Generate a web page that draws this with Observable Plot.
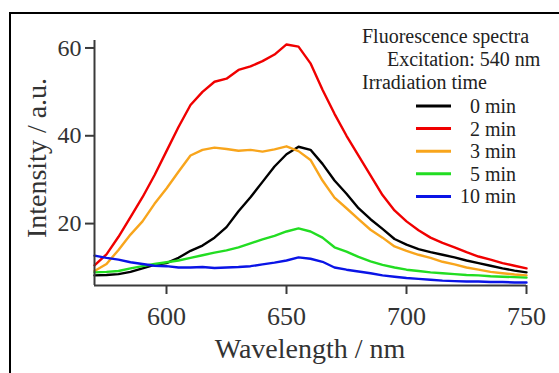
<!DOCTYPE html>
<html>
<head>
<meta charset="utf-8">
<script src="https://cdn.jsdelivr.net/npm/d3@7"></script>
<script src="https://cdn.jsdelivr.net/npm/@observablehq/plot@0.6"></script>
<style>
  html, body { margin: 0; padding: 0; background: #fff; }
  #wrap { position: relative; width: 559px; height: 373px; overflow: hidden; }
  #frame { position: absolute; left: 9px; top: 12px; width: 560px; height: 370px;
           border-left: 2.5px solid #000; border-top: 2.5px solid #000; pointer-events: none; }
  #wrap svg text { font-family: "Liberation Serif", "DejaVu Serif", serif !important; }
</style>
</head>
<body>
<div id="wrap"><div id="frame"></div></div>
<script>
const wavelengths = [570,575,580,585,590,595,600,605,610,615,620,625,630,635,640,645,650,655,660,665,670,675,680,685,690,695,700,705,710,715,720,725,730,735,740,745,750];
const seriesNames = ["0 min", "2 min", "3 min", "5 min", "10 min"];
const seriesColors = ["#000000", "#f00000", "#f8a51c", "#22dd22", "#0a14e6"];
const min0  = [8.2,8.3,8.5,9.0,9.8,10.6,11.0,12.2,13.8,15.0,16.8,19.2,22.8,26.0,29.5,33.0,35.8,37.5,36.8,33.6,29.8,26.8,23.5,21.0,18.8,16.5,15.2,14.2,13.5,12.9,12.3,11.6,11.0,10.4,9.8,9.3,8.9];
const min2  = [10.5,13.0,17.0,21.5,26.0,31.0,36.5,42.0,47.0,50.0,52.3,53.0,55.0,55.8,57.0,58.5,60.8,60.3,56.5,50.5,45.0,40.0,35.5,31.0,26.5,23.0,20.5,18.5,16.8,15.6,14.6,13.5,12.5,11.8,11.0,10.4,9.8];
const min3  = [9.2,10.8,14.0,17.5,20.5,24.5,28.0,31.8,35.5,36.8,37.3,37.0,36.6,36.8,36.4,36.9,37.6,36.5,34.5,29.8,25.9,23.5,21.0,18.6,16.8,14.8,13.8,12.9,12.2,11.3,10.7,10.0,9.5,9.0,8.7,8.4,8.2];
const min5  = [8.9,9.0,9.2,9.8,10.3,10.8,11.2,11.6,12.2,12.8,13.4,13.9,14.6,15.5,16.4,17.2,18.2,18.9,18.2,16.8,14.6,13.6,12.4,11.4,10.6,10.0,9.5,9.2,8.9,8.7,8.5,8.3,8.2,8.0,7.9,7.8,7.7];
const min10 = [12.7,12.2,11.8,11.2,10.8,10.4,10.3,10.0,10.0,10.1,9.9,10.0,10.1,10.3,10.7,11.1,11.6,12.3,12.0,11.3,10.0,9.5,9.1,8.7,8.2,7.9,7.6,7.4,7.2,7.0,6.9,6.8,6.8,6.7,6.7,6.6,6.6];
const xTicks = [600, 650, 700, 750];
const yTicks = [20, 40, 60];
const xTitle = "Wavelength / nm";
const yTitle = "Intensity / a.u.";
const legendHeader = ["Fluorescence spectra", "Excitation: 540 nm", "Irradiation time"];

const seriesValues = [min0, min2, min3, min5, min10];
const data = [];
seriesNames.forEach((name, i) => {
  wavelengths.forEach((w, j) => data.push({series: name, wavelength: w, intensity: seriesValues[i][j]}));
});

const font = "Liberation Serif";
const plot = Plot.plot({
  width: 559,
  height: 373,
  marginLeft: 94,
  marginRight: 33,
  marginTop: 40,
  marginBottom: 88,
  style: {fontFamily: font, background: "transparent", overflow: "visible"},
  x: {domain: [570, 750], label: null},
  y: {domain: [5.9, 61.7], label: null},
  color: {domain: seriesNames, range: seriesColors},
  marks: [
    Plot.lineY(data, {x: "wavelength", y: "intensity", stroke: "series", strokeWidth: 2.4, z: "series"}),
    Plot.ruleX([570], {stroke: "#3a3a3a", strokeWidth: 2}),
    Plot.ruleY([5.9], {stroke: "#3a3a3a", strokeWidth: 2}),
    Plot.axisX({ticks: xTicks, tickSize: 9, tickPadding: 12, fontSize: 26, fontFamily: font, stroke: "#3a3a3a", strokeWidth: 2, fill: "#333", label: null}),
    Plot.axisY({ticks: yTicks, tickSize: 9, tickPadding: 4, fontSize: 24, fontFamily: font, stroke: "#3a3a3a", strokeWidth: 2, fill: "#333", label: null})
  ]
});
document.getElementById("wrap").prepend(plot);

const svg = d3.select(plot);
svg.append("text").attr("x", 310).attr("y", 358).attr("text-anchor", "middle")
  .attr("font-size", 28).attr("font-family", font).attr("fill", "#333").text(xTitle);
svg.append("text").attr("transform", "translate(46,158) rotate(-90)").attr("text-anchor", "middle")
  .attr("font-size", 28).attr("font-family", font).attr("fill", "#333").text(yTitle);

const lg = svg.append("g").attr("font-family", font).attr("font-size", 20).attr("fill", "#222").attr("text-anchor", "start");
lg.append("text").attr("x", 362).attr("y", 43).text(legendHeader[0]);
lg.append("text").attr("x", 387).attr("y", 66).text(legendHeader[1]);
lg.append("text").attr("x", 362).attr("y", 89).text(legendHeader[2]);
seriesNames.forEach((name, i) => {
  const yy = 106 + i * 22.6;
  lg.append("line").attr("x1", 416).attr("x2", 451).attr("y1", yy).attr("y2", yy)
    .attr("stroke", seriesColors[i]).attr("stroke-width", 3);
  lg.append("text").attr("x", 516).attr("y", yy + 7).attr("text-anchor", "end").text(name);
});
</script>
</body>
</html>
